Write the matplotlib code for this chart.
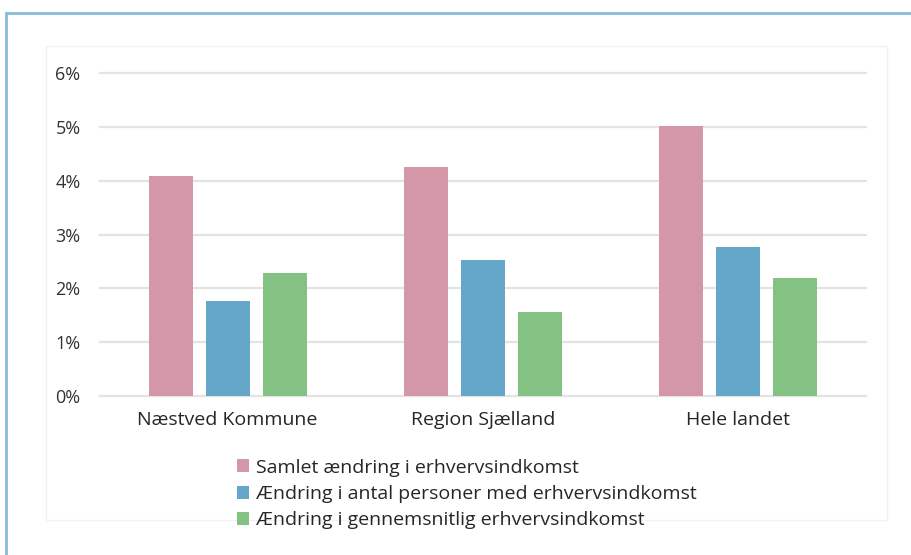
import matplotlib

matplotlib.use("Agg")
import matplotlib.pyplot as plt
import numpy as np
from matplotlib.patches import Rectangle, Patch

plt.rcParams["font.family"] = ["Open Sans", "DejaVu Sans"]

categories = ["Næstved Kommune", "Region Sjælland", "Hele landet"]
series_names = [
    "Samlet ændring i erhvervsindkomst",
    "Ændring i antal personer med erhvervsindkomst",
    "Ændring i gennemsnitlig erhvervsindkomst",
]
samlet = [4.09, 4.26, 5.02]
antal = [1.77, 2.53, 2.77]
gennemsnit = [2.29, 1.56, 2.19]
y_ticks = [0, 1, 2, 3, 4, 5, 6]

colors = ["#d397a7", "#64a7c8", "#83c283"]

fig = plt.figure(figsize=(9.12, 5.55), dpi=100)

# outer blue frame and faint plot-area box
fig.patches.append(Rectangle((6 / 912, -0.05), 1.0, 1 - 13 / 555 + 0.05,
                             transform=fig.transFigure, fill=False,
                             edgecolor="#86bcd9", linewidth=2.0))
fig.patches.append(Rectangle((46 / 912, 1 - 520 / 555), (887 - 46) / 912, (520 - 46) / 555,
                             transform=fig.transFigure, fill=False,
                             edgecolor="#f2f2f2", linewidth=1.0))

ax = fig.add_axes([100 / 912, 1 - 396 / 555, 766 / 912, 323 / 555])
x = np.arange(len(categories))
width = 0.1725
step = 0.2235
for i, (vals, name) in enumerate(zip([samlet, antal, gennemsnit], series_names)):
    ax.bar(x + (i - 1) * step, vals, width, color=colors[i], label=name, zorder=3)

ax.set_xlim(-0.5, 2.5)
ax.set_ylim(0, 6)
ax.set_yticks(y_ticks)
ax.set_yticklabels([f"{t}%" for t in y_ticks], fontsize=13, color="#333333")
ax.set_xticks(x)
ax.set_xticklabels(categories, fontsize=14, color="#262626")
ax.tick_params(axis="both", length=0)
ax.tick_params(axis="y", pad=14)
ax.tick_params(axis="x", pad=11)
for t in y_ticks:
    ax.axhline(t, color="#e3e3e3", linewidth=1.6, zorder=1, clip_on=False)
for s in ax.spines.values():
    s.set_visible(False)

handles = [Patch(facecolor=c, edgecolor="none") for c in colors]
fig.legend(handles, series_names, loc="upper left",
           bbox_to_anchor=(229 / 912, 1 - 451 / 555), frameon=False,
           fontsize=14, handlelength=0.65, handleheight=0.65,
           handletextpad=0.35, labelspacing=0.42, borderaxespad=0,
           labelcolor="#262626")

fig.savefig("out.png", dpi=100)
